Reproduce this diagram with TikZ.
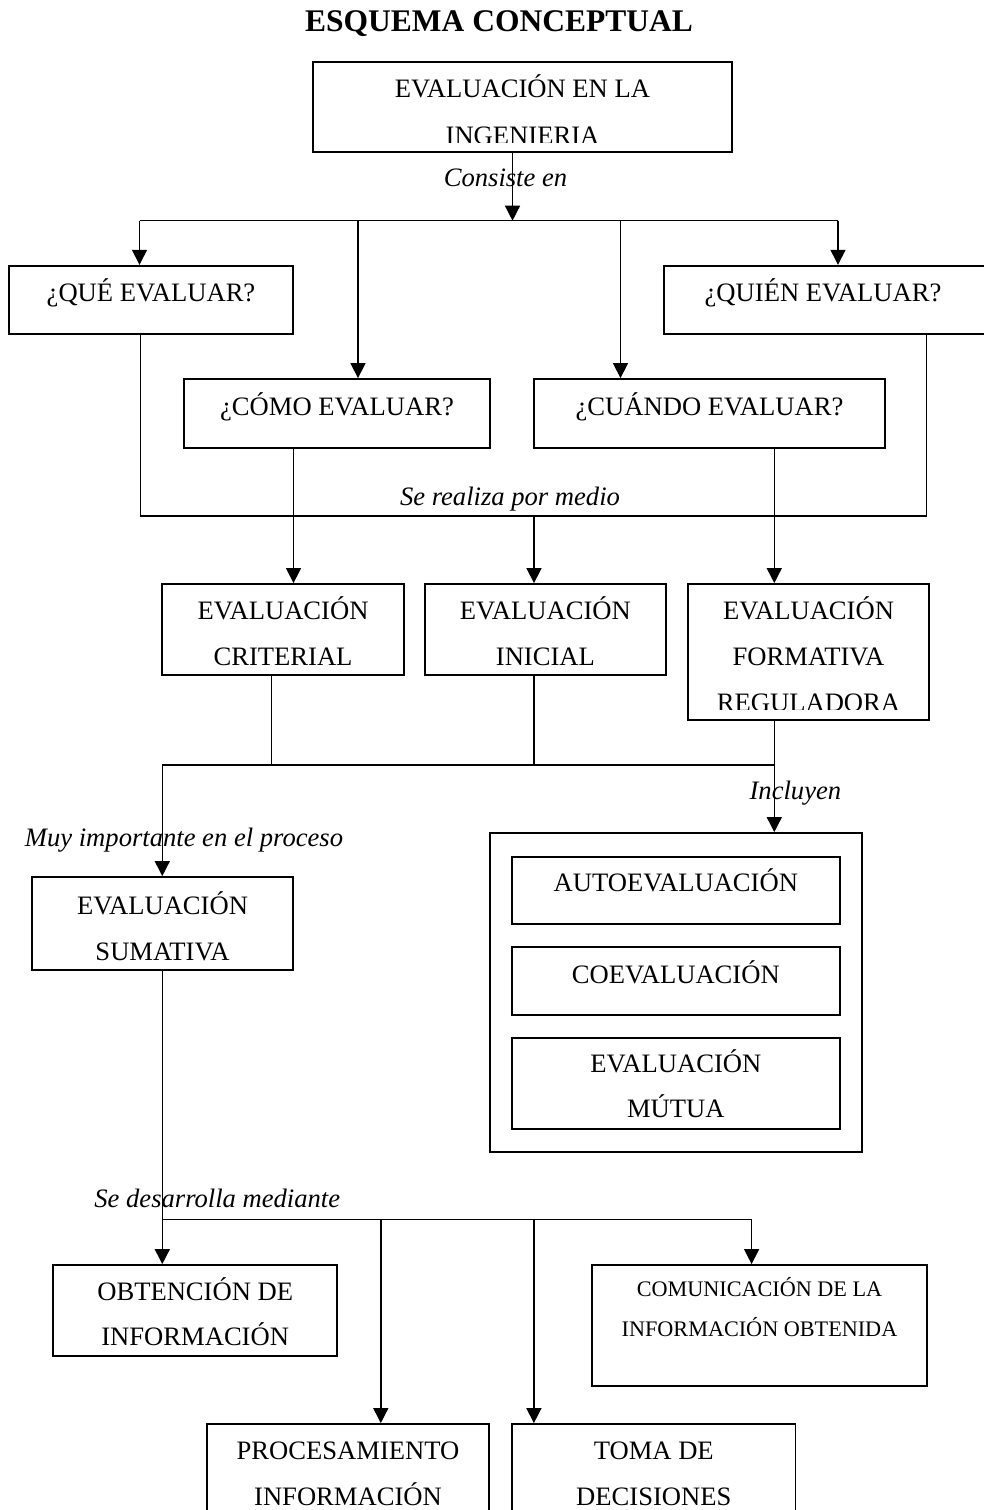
\documentclass[tikz,border=0pt]{standalone}
\usepackage{fontspec}
\setmainfont{Liberation Serif}
\usetikzlibrary{arrows.meta,fit,calc}

\tikzset{
  box/.style={draw, line width=1.8pt, inner sep=0pt, fit={#1}},
  txt/.style={anchor=base, inner sep=0pt, font=\fontsize{26.6}{46}\selectfont},
  small/.style={anchor=base, inner sep=0pt, font=\fontsize{22.2}{40}\selectfont},
  lab/.style={anchor=base, inner sep=0pt, font=\fontsize{26.6}{46}\selectfont\itshape},
  ttl/.style={anchor=base, inner sep=0pt, font=\fontsize{31.5}{36}\selectfont\bfseries},
  conn/.style={line width=1.4pt},
  arr/.style={conn, -{Triangle[length=15pt,width=15pt]}},
}

\begin{document}
\begin{tikzpicture}[x=1pt,y=-1pt]
\useasboundingbox (0,0) rectangle (984,1510);
\clip (0,0) rectangle (984,1510);

% title
\node[ttl] (title) at (499,31.7) {ESQUEMA CONCEPTUAL};

% ---------- boxes ----------
\node[box={(313,62) (732,152)}] (top) {};
\node[box={(9,265.7) (293,334)}] (que) {};
\node[box={(664,265.7) (1000,334)}] (quien) {};
\node[box={(184,379) (490,448)}] (como) {};
\node[box={(534,379) (885,448)}] (cuando) {};
\node[box={(162.3,584) (403.7,675)}] (crit) {};
\node[box={(425.2,584) (665.6,675)}] (ini) {};
\node[box={(688.1,584) (929,720)}] (form) {};
\node[box={(31.7,877) (293.3,970)}] (suma) {};
\node[box={(490,833) (861.7,1151.7)}] (incl) {};
\node[box={(511.7,856.7) (840,924)}] (auto) {};
\node[box={(511.7,947) (840,1015)}] (coev) {};
\node[box={(511.7,1038) (840,1128.7)}] (mutua) {};
\node[box={(53.3,1265) (337,1355.7)}] (obt) {};
\node[box={(591.7,1265) (927.3,1386)}] (comu) {};
\node[box={(207,1424) (489,1540)}] (proc) {};
\node[box={(512,1424) (795.5,1540)}] (toma) {};

% ---------- box texts ----------
\begin{scope}
  \clip (313,62) rectangle (732,142.7);
  \node[txt] (topA) at (522.5,97.7) {EVALUACIÓN EN LA};
  \node[txt] (topB) at (522.5,144) {INGENIERIA};
\end{scope}
\node[txt] (queT) at (151,301.7) {¿QUÉ EVALUAR?};
\node[txt] (quienT) at (823,301.7) {¿QUIÉN EVALUAR?};
\node[txt] (comoT) at (337,415) {¿CÓMO EVALUAR?};
\node[txt] (cuandoT) at (709.5,415) {¿CUÁNDO EVALUAR?};
\node[txt] (critA) at (283,619.3) {EVALUACIÓN};
\node[txt] (critB) at (283,665) {CRITERIAL};
\node[txt] (iniA) at (545.4,619.3) {EVALUACIÓN};
\node[txt] (iniB) at (545.4,665) {INICIAL};
\begin{scope}
  \clip (688.1,584) rectangle (929,709.3);
  \node[txt] (formA) at (808.5,619.3) {EVALUACIÓN};
  \node[txt] (formB) at (808.5,665) {FORMATIVA};
  \node[txt] (formC) at (808.5,711) {REGULADORA};
\end{scope}
\node[txt] (sumaA) at (162.5,914) {EVALUACIÓN};
\node[txt] (sumaB) at (162.5,960) {SUMATIVA};
\node[txt] (autoT) at (675.8,891.7) {AUTOEVALUACIÓN};
\node[txt] (coevT) at (675.8,983.3) {COEVALUACIÓN};
\node[txt] (mutA) at (675.8,1072.7) {EVALUACIÓN};
\node[txt] (mutB) at (675.8,1117.7) {MÚTUA};
\node[txt] (obtA) at (195.2,1300) {OBTENCIÓN DE};
\node[txt] (obtB) at (195.2,1345.7) {INFORMACIÓN};
\node[small] (comuA) at (759.5,1296) {COMUNICACIÓN DE LA};
\node[small] (comuB) at (759.5,1336) {INFORMACIÓN OBTENIDA};
\node[txt] (procA) at (348,1459) {PROCESAMIENTO};
\node[txt] (procB) at (348,1505) {INFORMACIÓN};
\node[txt] (tomaA) at (653.8,1459) {TOMA DE};
\node[txt] (tomaB) at (653.8,1505) {DECISIONES};

% ---------- junction points ----------
\coordinate (h1c) at (512.5,220.7);
\coordinate (h1L) at (139.5,220.7);
\coordinate (h1R) at (838,220.7);
\coordinate (d1) at (358,220.7);
\coordinate (d2) at (620.5,220.7);

\coordinate (h2L) at (140.5,516);
\coordinate (h2R) at (926.7,516);
\coordinate (h2m) at (534,516);
\coordinate (v1) at (293.5,0);
\coordinate (v2) at (774.3,0);

\coordinate (h3L) at (162.3,765);
\coordinate (h3R) at (774.3,765);
\coordinate (v3) at (271.7,0);
\coordinate (v4) at (534,0);

\coordinate (h4L) at (162.3,1219.3);
\coordinate (h4R) at (751.6,1219.3);
\coordinate (d3) at (380.8,1219.3);
\coordinate (d4) at (533.9,1219.3);

% ---------- connectors ----------
\draw[arr] (h1c |- top.south) -- (h1c);
\draw[conn] (h1L) -- (h1R);
\draw[arr] (h1L) -- (h1L |- que.north);
\draw[arr] (h1R) -- (h1R |- quien.north);
\draw[arr] (d1) -- (d1 |- como.north);
\draw[arr] (d2) -- (d2 |- cuando.north);

\draw[conn] (h2L |- que.south) -- (h2L) -- (h2R) -- (h2R |- quien.south);
\draw[arr] (h2m) -- (h2m |- ini.north);
\draw[arr] (v1 |- como.south) -- (v1 |- crit.north);
\draw[arr] (v2 |- cuando.south) -- (v2 |- form.north);

\draw[conn] (v3 |- crit.south) -- (v3 |- h3L);
\draw[conn] (v4 |- ini.south) -- (v4 |- h3L);
\draw[conn] (h3L) -- (h3R);
\draw[arr] (h3L) -- (h3L |- suma.north);
\draw[arr] (v2 |- form.south) -- (v2 |- incl.north);

\draw[conn] (h4L |- suma.south) -- (h4L);
\draw[conn] (h4L) -- (h4R);
\draw[arr] (h4L) -- (h4L |- obt.north);
\draw[arr] (h4R) -- (h4R |- comu.north);
\draw[arr] (d3) -- (d3 |- proc.north);
\draw[arr] (d4) -- (d4 |- toma.north);

% ---------- connector labels ----------
\node[lab] (l1) at (505.5,186.7) {Consiste en};
\node[lab] (l2) at (510,505) {Se realiza por medio};
\node[lab] (l3) at (795.4,799.3) {Incluyen};
\node[lab] (l4) at (184,846) {Muy importante en el proceso};
\node[lab] (l5) at (217.3,1207) {Se desarrolla mediante};
\end{tikzpicture}
\end{document}
